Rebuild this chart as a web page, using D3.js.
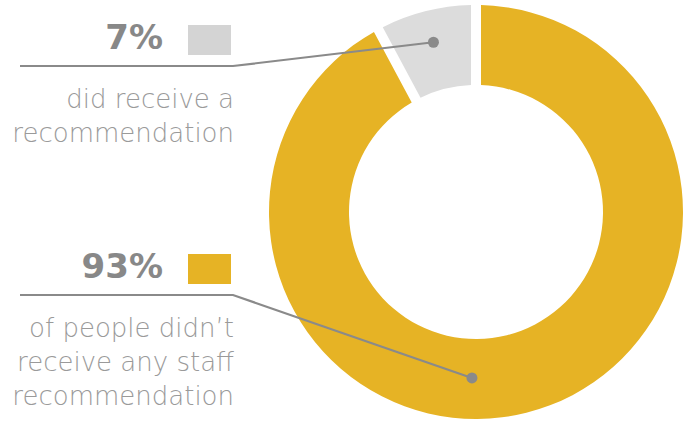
<!DOCTYPE html>
<html>
<head>
<meta charset="utf-8">
<script src="https://cdn.jsdelivr.net/npm/d3@7/dist/d3.min.js"></script>
<style>
  html, body { margin: 0; padding: 0; background: #ffffff; }
  svg { display: block; }
</style>
</head>
<body>
<svg id="chart" width="691" height="423"></svg>
<script>
// Share of people who received a staff recommendation
const categories = ["didn't receive", "did receive"];
const values = [93, 7];
const colors = ["#E6B325", "#DCDCDC"];
const legendColors = ["#E6B325", "#D4D4D4"];
const pctLabels = ["93%", "7%"];
const descriptions = [
  ["of people didn\u2019t", "receive any staff", "recommendation"],
  ["did receive a", "recommendation"]
];

const W = 691, H = 423;
const cx = 476, cy = 212, outerR = 207, innerR = 127;

const svg = d3.select("#chart");
const g = svg.append("g").attr("transform", `translate(${cx},${cy})`);

const pie = d3.pie().sort(null).value(d => d)
  .startAngle(0).endAngle(2 * Math.PI)
  .padAngle(10 / 167);

const arcs = pie(values);
const arc = d3.arc().innerRadius(innerR).outerRadius(outerR).padRadius(167);

g.selectAll("path.slice")
  .data(arcs)
  .join("path")
  .attr("class", "slice")
  .attr("d", arc)
  .attr("fill", (d, i) => colors[i]);

// label blocks on the left, with leader lines into the ring
const labelLayout = [
  { top: 254, lineY: 295, textY: 337, anchorAngle: 181.4, anchorR: 166 },
  { top: 25, lineY: 66, textY: 108, anchorAngle: null, anchorR: 175 }
];

const textRight = 234, pctRight = 163, lineX0 = 20, lineX1 = 233;

arcs.forEach((a, i) => {
  const L = labelLayout[i];
  const ang = L.anchorAngle === null ? (a.startAngle + a.endAngle) / 2 : L.anchorAngle * Math.PI / 180;
  const ax = cx + L.anchorR * Math.sin(ang);
  const ay = cy - L.anchorR * Math.cos(ang);

  svg.append("polyline")
    .attr("points", [[lineX0, L.lineY], [lineX1, L.lineY], [ax, ay]].map(p => p.join(",")).join(" "))
    .attr("fill", "none")
    .attr("stroke", "#8a8a8a")
    .attr("stroke-width", 2.2);

  svg.append("circle")
    .attr("cx", ax).attr("cy", ay).attr("r", 5.5)
    .attr("fill", "#8a8a8a");

  svg.append("rect")
    .attr("x", 188).attr("y", L.top)
    .attr("width", 43).attr("height", 30)
    .attr("fill", legendColors[i]);

  svg.append("text")
    .attr("x", pctRight).attr("y", L.top + 24)
    .attr("text-anchor", "end")
    .attr("font-family", "'DejaVu Sans', sans-serif")
    .attr("font-weight", 700)
    .attr("font-size", 34)
    .attr("fill", "#888888")
    .text(pctLabels[i]);

  svg.append("g").selectAll("text")
    .data(descriptions[i])
    .join("text")
    .attr("x", textRight)
    .attr("y", (d, j) => L.textY + j * 34)
    .attr("text-anchor", "end")
    .attr("font-family", "'DejaVu Sans', sans-serif")
    .attr("font-weight", 200)
    .attr("font-size", 26)
    .attr("fill", "#9a9a9a")
    .text(d => d);
});
</script>
</body>
</html>
